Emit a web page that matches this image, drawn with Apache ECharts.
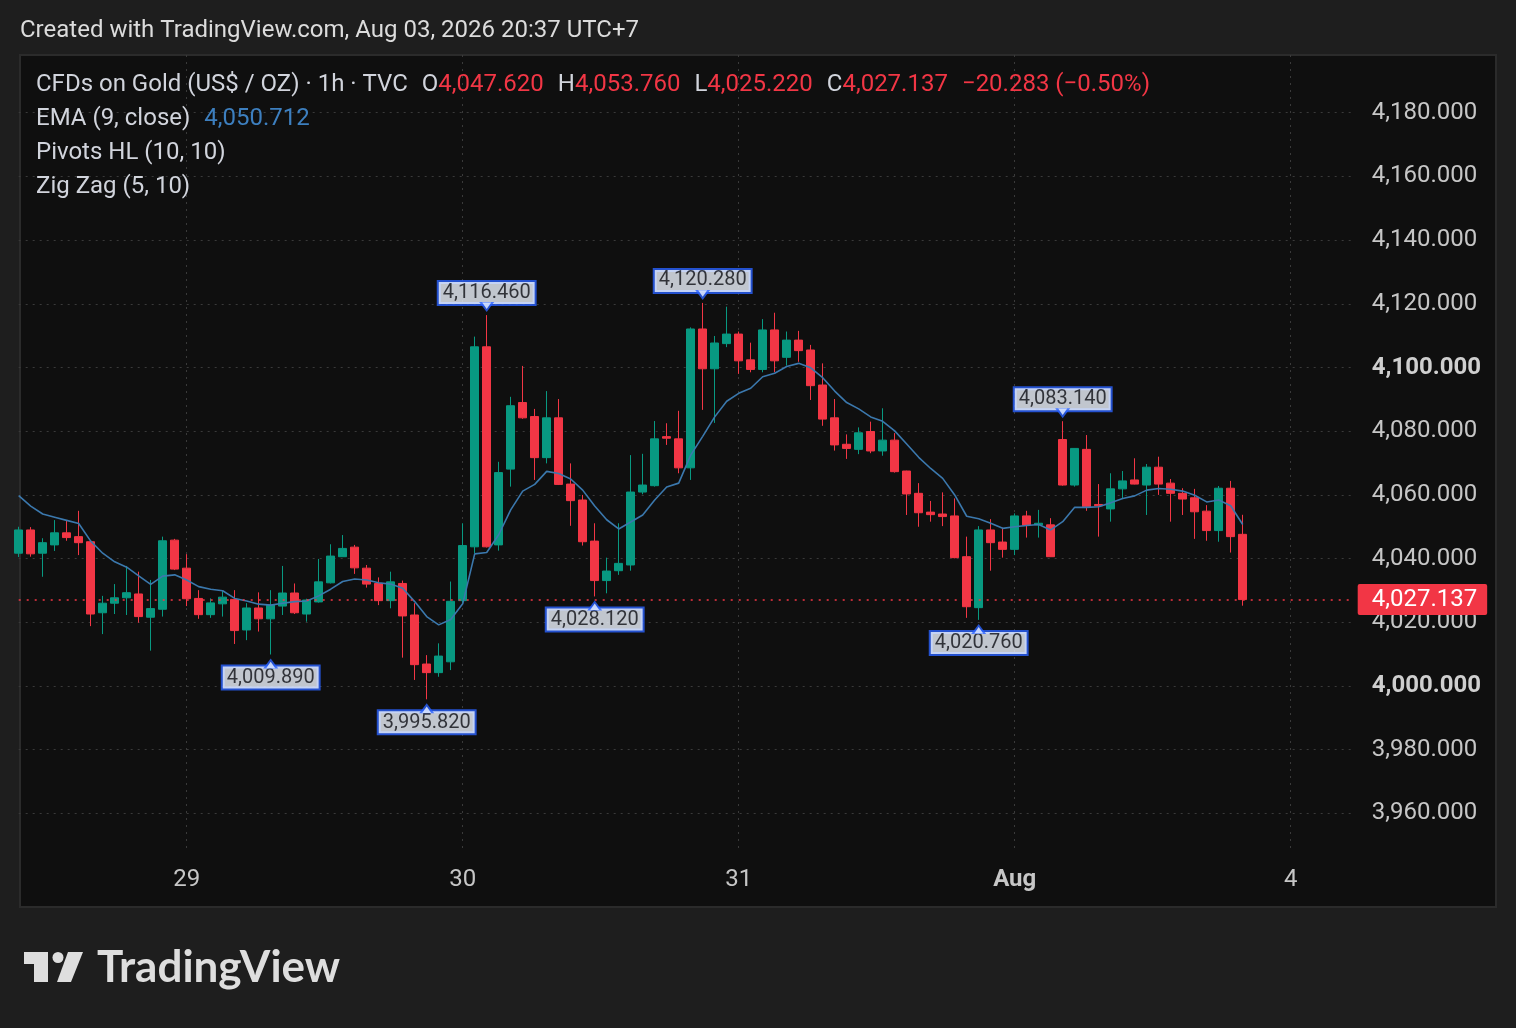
<!DOCTYPE html>
<html><head><meta charset="utf-8">
<script src="https://cdn.jsdelivr.net/npm/echarts@6/dist/echarts.min.js"></script>
<style>html,body{margin:0;padding:0;background:#1e1e1e}#c{width:1516px;height:1028px}</style>
</head><body><div id="c"></div><script>
// ---- time categories (1h bars, daily break at 04:00) ----
const firstDayHours = ['10:00','11:00','12:00','13:00','14:00','15:00','16:00','17:00','18:00','19:00','20:00','21:00','22:00','23:00'];
const dayHours = ['00:00','01:00','02:00','03:00','05:00','06:00','07:00','08:00','09:00','10:00','11:00','12:00','13:00','14:00','15:00','16:00','17:00','18:00','19:00','20:00','21:00','22:00','23:00'];
const lastDayHours = ['00:00','01:00','02:00','03:00','05:00','06:00'];
const dayKeys = ['07-29','07-30','07-31','08-03'];
const dayTickCats = ['07-29 00:00','07-30 00:00','07-31 00:00','08-03 00:00','08-04 00:00'];
const dayTickLabels = ['29','30','31','Aug','4'];

// ---- OHLC values ----
const openVals = [4041.7,4049.0,4041.7,4044.3,4048.1,4046.9,4045.3,4023.0,4026.0,4027.7,4028.9,4021.6,4024.1,4045.8,4037.0,4027.5,4022.4,4025.8,4027.2,4017.6,
4024.5,4021.1,4025.1,4029.2,4022.6,4026.4,4032.4,4040.6,4043.6,4037.0,4032.2,4026.8,4032.2,4022.3,4006.9,4004.2,4007.6,4026.8,4043.7,4106.5,
4044.3,4068.1,4089.0,4084.6,4071.7,4084.2,4063.4,4058.4,4045.5,4033.1,4036.2,4038.0,4060.9,4062.9,4078.3,4077.6,4068.5,4112.1,4099.6,4107.5,
4110.5,4102.4,4099.4,4111.8,4103.2,4108.6,4105.5,4094.5,4084.2,4075.9,4074.3,4079.9,4073.8,4077.2,4067.5,4060.5,4054.6,4054.0,4053.4,4040.6,
4024.6,4049.0,4045.2,4042.9,4053.4,4050.6,4050.6,4077.4,4063.1,4074.3,4057.0,4055.6,4061.9,4064.7,4063.1,4068.7,4063.7,4060.5,4059.1,4054.9,
4048.8,4062.1,4047.62];
const highVals = [4050.0,4049.9,4046.4,4052.1,4052.1,4055.0,4045.8,4028.3,4032.0,4037.7,4035.9,4033.3,4046.9,4046.2,4041.4,4030.1,4027.5,4030.1,4030.1,4026.0,
4029.4,4030.1,4037.7,4032.2,4027.4,4039.9,4044.5,4047.4,4044.3,4038.0,4034.1,4035.9,4033.1,4026.0,4009.7,4013.4,4032.8,4051.1,4109.7,4116.46,
4070.4,4090.8,4100.5,4087.0,4092.6,4090.1,4069.9,4060.0,4051.1,4040.3,4051.1,4072.5,4072.9,4083.2,4082.5,4086.4,4112.6,4120.28,4109.9,4119.1,
4111.3,4107.8,4115.2,4117.2,4111.3,4111.5,4107.1,4101.3,4090.1,4079.0,4081.2,4083.0,4087.2,4079.4,4067.6,4063.7,4058.1,4060.8,4058.9,4046.9,
4050.2,4052.4,4049.7,4054.2,4055.0,4055.3,4052.7,4083.14,4074.7,4078.8,4063.4,4066.8,4067.5,4071.5,4069.7,4072.0,4065.0,4062.1,4061.9,4056.8,
4062.8,4064.4,4053.76];
const lowVals = [4040.5,4040.6,4034.3,4042.4,4045.6,4041.1,4018.8,4016.3,4022.6,4022.3,4019.9,4011.1,4021.8,4036.4,4025.1,4021.1,4021.4,4021.8,4013.2,4014.4,
4017.1,4009.89,4022.3,4022.6,4020.2,4026.2,4032.2,4040.6,4035.2,4030.9,4025.4,4024.4,4008.9,4001.9,3995.82,4002.9,4005.0,4026.0,4041.7,4043.5,
4042.5,4062.6,4083.9,4064.7,4069.9,4063.1,4050.3,4044.1,4028.12,4029.1,4034.9,4036.2,4060.2,4062.6,4075.7,4066.8,4064.7,4086.7,4082.6,4106.4,
4098.0,4098.5,4098.5,4098.5,4100.6,4101.8,4089.8,4081.7,4073.9,4071.3,4072.8,4073.1,4072.3,4067.0,4053.7,4050.0,4051.6,4050.2,4040.1,4021.4,
4020.76,4036.2,4040.3,4041.1,4046.6,4046.6,4040.5,4062.9,4062.6,4055.0,4046.9,4051.6,4058.7,4063.3,4053.7,4060.0,4051.6,4053.7,4046.2,4045.6,
4045.3,4041.9,4025.22];
const closeVals = [4049.0,4041.5,4045.0,4048.1,4046.6,4045.0,4022.6,4026.0,4027.7,4029.3,4021.8,4024.3,4045.6,4036.7,4027.4,4022.4,4026.1,4027.9,4017.4,4024.5,
4021.1,4025.4,4029.2,4023.0,4027.0,4032.7,4040.8,4043.2,4037.1,4032.0,4026.8,4032.7,4022.0,4006.7,4004.2,4009.4,4026.6,4044.1,4106.5,4043.7,
4067.0,4088.0,4084.2,4071.7,4084.2,4063.3,4058.2,4045.3,4033.1,4036.1,4038.5,4060.9,4063.1,4077.6,4077.8,4068.5,4112.1,4099.6,4107.7,4110.5,
4102.1,4099.4,4111.8,4102.1,4108.6,4105.3,4094.3,4083.8,4075.7,4074.6,4079.5,4073.8,4077.2,4067.3,4060.3,4054.4,4053.8,4053.2,4040.3,4024.9,
4049.0,4045.0,4042.9,4053.4,4050.5,4051.1,4040.6,4063.1,4074.6,4056.3,4056.6,4061.9,4064.4,4063.4,4068.7,4063.4,4060.5,4058.7,4054.7,4048.8,
4062.1,4046.9,4027.137];
// ---- EMA (9, close) ----
const emaVals = [4059.8,4056.5,4054.0,4053.0,4052.0,4051.0,4045.5,4041.7,4039.0,4037.3,4034.6,4031.9,4034.5,4034.9,4033.3,4031.2,4030.4,4029.9,4027.5,4026.7,
4025.7,4025.4,4026.0,4026.5,4026.7,4028.3,4030.4,4032.8,4033.6,4033.3,4032.4,4032.0,4030.7,4026.5,4021.8,4019.2,4020.9,4025.8,4041.5,4041.9,
4047.5,4055.3,4061.2,4063.3,4067.4,4066.7,4065.0,4061.5,4056.5,4052.2,4049.3,4051.5,4053.7,4058.4,4062.5,4063.7,4072.5,4078.4,4084.5,4089.4,
4091.9,4093.5,4097.1,4098.2,4100.3,4101.3,4099.9,4096.8,4092.6,4089.0,4087.0,4084.5,4083.1,4080.1,4076.0,4071.8,4068.3,4065.2,4060.0,4053.3,
4052.5,4051.1,4049.5,4050.0,4050.4,4050.7,4049.0,4051.6,4056.1,4056.1,4056.3,4057.5,4058.9,4059.7,4061.5,4062.0,4061.8,4061.2,4059.9,4057.8,
4058.4,4056.6,4050.712];
// ---- Pivots HL ----
const pivotHighIdx = [39, 57, 87];
const pivotHighVals = [4116.46, 4120.28, 4083.14];
const pivotLowIdx = [21, 34, 48, 80];
const pivotLowVals = [4009.89, 3995.82, 4028.12, 4020.76];
// ---- price axis ticks ----
const priceTicks = [3960,3980,4000,4020,4040,4060,4080,4100,4120,4140,4160,4180];
const lastPrice = 4027.137;
const lastEma = 4050.712;

// categories
const categories = [];
firstDayHours.forEach(h => categories.push('07-28 ' + h));
dayKeys.forEach(d => dayHours.forEach(h => categories.push(d + ' ' + h)));
lastDayHours.forEach(h => categories.push('08-04 ' + h));

const candleData = openVals.map((o, i) => [o, closeVals[i], lowVals[i], highVals[i]]);
const fmt = v => v.toLocaleString('en-US', {minimumFractionDigits: 3, maximumFractionDigits: 3});
const FONT = 'Roboto, "Noto Sans", sans-serif';
const FS = 24;
const GREEN = '#089981', RED = '#f23645', EMA_C = '#3b78ad', TXT = '#c6c6c6';
const PIV_BG = '#eef4fe', PIV_BORDER = '#2962ff';

const highPts = pivotHighIdx.map((x, i) => [categories[x], pivotHighVals[i]]);
const lowPts = pivotLowIdx.map((x, i) => [categories[x], pivotLowVals[i]]);
const pivotLabel = {
  show: true, formatter: p => fmt(p.value[1]), color: '#0c0e14', fontFamily: FONT, fontSize: 20,
  backgroundColor: PIV_BG, borderColor: PIV_BORDER, borderWidth: 2, lineHeight: 19
};

const chart = echarts.init(document.getElementById('c'), null, {renderer: 'canvas'});
chart.setOption({
  animation: false,
  backgroundColor: '#1e1e1e',
  textStyle: {fontFamily: FONT},
  grid: {left: 18.7, right: 165.3, top: 55, bottom: 180, containLabel: false, outerBoundsMode: 'none'},
  xAxis: {
    type: 'category', data: categories, boundaryGap: false,
    axisLine: {show: false}, axisTick: {show: false},
    splitLine: {show: true, interval: (i, v) => dayTickCats.includes(v), lineStyle: {color: '#3a3a3a', type: [2, 5], width: 1}},
    axisLabel: {
      interval: (i, v) => dayTickCats.includes(v), margin: 20, color: TXT, fontSize: FS, fontFamily: FONT,
      formatter: v => { const k = dayTickCats.indexOf(v); const s = dayTickLabels[k]; return s === 'Aug' ? '{b|Aug}' : s; },
      rich: {b: {fontWeight: 'bold', fontSize: FS, color: TXT, fontFamily: FONT}}
    }
  },
  yAxis: {
    type: 'value', position: 'right', scale: true, min: 3949.14, max: 4198.12,
    axisLine: {show: false},
    axisTick: {show: false, customValues: priceTicks},
    splitLine: {show: true, lineStyle: {color: '#3a3a3a', type: [2, 5], width: 1}},
    axisLabel: {
      customValues: priceTicks, margin: 21, color: TXT, fontSize: FS, fontFamily: FONT,
      formatter: v => v % 100 === 0 ? '{b|' + fmt(v) + '}' : fmt(v),
      rich: {b: {fontWeight: 'bold', fontSize: FS, color: '#cfcfcf', fontFamily: FONT}}
    }
  },
  series: [
    {
      type: 'candlestick', data: candleData, barWidth: 9, clip: true,
      itemStyle: {color: GREEN, color0: RED, borderColor: GREEN, borderColor0: RED, borderWidth: 1},
      markLine: {
        silent: true, symbol: ['none', 'none'], animation: false,
        lineStyle: {color: RED, type: [2, 6], width: 1.5},
        label: {
          position: 'end', distance: 7, formatter: () => fmt(lastPrice), color: '#ffffff', fontSize: FS, fontFamily: FONT,
          backgroundColor: RED, padding: [4, 10, 3, 14], borderRadius: 2
        },
        data: [{yAxis: lastPrice}]
      }
    },
    {
      type: 'line', data: emaVals, symbol: 'none', smooth: false, silent: true,
      lineStyle: {color: EMA_C, width: 1.6},
      markLine: {
        silent: true, symbol: ['none', 'none'], animation: false,
        lineStyle: {opacity: 0},
        label: {
          position: 'end', distance: 7, formatter: () => fmt(lastEma), color: '#ffffff', fontSize: FS, fontFamily: FONT,
          backgroundColor: EMA_C, padding: [4, 10, 3, 14], borderRadius: 2
        },
        data: [{yAxis: lastEma}]
      }
    },
    // pivot high labels
    {type: 'scatter', data: highPts, symbolSize: 0, silent: true, z: 5,
      label: Object.assign({}, pivotLabel, {position: 'top', distance: 11, padding: [1, 4, 2, 4]})},
    {type: 'scatter', data: highPts, symbol: 'triangle', symbolRotate: 180, symbolSize: [15, 10], symbolOffset: [0, -8], silent: true, z: 6,
      itemStyle: {color: PIV_BORDER}},
    {type: 'scatter', data: highPts, symbol: 'triangle', symbolRotate: 180, symbolSize: [9, 6.5], symbolOffset: [0, -9.4], silent: true, z: 7,
      itemStyle: {color: PIV_BG}},
    // pivot low labels
    {type: 'scatter', data: lowPts, symbolSize: 0, silent: true, z: 5,
      label: Object.assign({}, pivotLabel, {position: 'bottom', distance: 12, padding: [2, 4, 1, 4]})},
    {type: 'scatter', data: lowPts, symbol: 'triangle', symbolSize: [15, 10], symbolOffset: [0, 9], silent: true, z: 6,
      itemStyle: {color: PIV_BORDER}},
    {type: 'scatter', data: lowPts, symbol: 'triangle', symbolSize: [9, 6.5], symbolOffset: [0, 10.4], silent: true, z: 7,
      itemStyle: {color: PIV_BG}}
  ],
  graphic: [
    {type: 'rect', z: -10, silent: true, shape: {x: 20, y: 55, width: 1476, height: 852},
      style: {fill: '#0f0f0f', stroke: '#2b2b2b', lineWidth: 2}},
    {type: 'text', z: 10, silent: true, x: 20, y: 31,
      style: {text: 'Created with TradingView.com, Aug 03, 2026 20:37 UTC+7', fill: '#dcdcdc', fontSize: FS, fontFamily: FONT,
        align: 'left', verticalAlign: 'middle', textAlign: 'left', textVerticalAlign: 'middle'}},
    {type: 'text', z: 10, silent: true, x: 36, y: 85,
      style: {
        text: '{g|CFDs on Gold (US$ / OZ) · 1h · TVC}{s|}{g|O}{r|4,047.620}{s|}{g|H}{r|4,053.760}{s|}{g|L}{r|4,025.220}{s|}{g|C}{r|4,027.137}{s|}{r|−20.283 (−0.50%)}',
        rich: {g: {fill: '#d1d4dc', color: '#d1d4dc', fontSize: FS, fontFamily: FONT}, r: {fill: RED, color: RED, fontSize: FS, fontFamily: FONT}, s: {width: 14}},
        fontSize: FS, fontFamily: FONT, align: 'left', verticalAlign: 'middle', textAlign: 'left', textVerticalAlign: 'middle'}},
    {type: 'text', z: 10, silent: true, x: 36, y: 119,
      style: {
        text: '{g|EMA (9, close)}{s|}{b|4,050.712}',
        rich: {g: {fill: '#d1d4dc', color: '#d1d4dc', fontSize: FS, fontFamily: FONT}, b: {fill: '#3d7fbf', color: '#3d7fbf', fontSize: FS, fontFamily: FONT}, s: {width: 14}},
        fontSize: FS, fontFamily: FONT, align: 'left', verticalAlign: 'middle', textAlign: 'left', textVerticalAlign: 'middle'}},
    {type: 'text', z: 10, silent: true, x: 36, y: 153,
      style: {text: 'Pivots HL (10, 10)', fill: '#d1d4dc', fontSize: FS, fontFamily: FONT, align: 'left', verticalAlign: 'middle', textAlign: 'left', textVerticalAlign: 'middle'}},
    {type: 'text', z: 10, silent: true, x: 36, y: 187,
      style: {text: 'Zig Zag (5, 10)', fill: '#d1d4dc', fontSize: FS, fontFamily: FONT, align: 'left', verticalAlign: 'middle', textAlign: 'left', textVerticalAlign: 'middle'}},
    // TradingView logo
    {type: 'group', z: 10, silent: true, children: [
      {type: 'rect', shape: {x: 24, y: 952, width: 24, height: 12}, style: {fill: '#dedede'}},
      {type: 'rect', shape: {x: 34, y: 952, width: 14, height: 30}, style: {fill: '#dedede'}},
      {type: 'circle', shape: {cx: 58, cy: 957.5, r: 5.5}, style: {fill: '#dedede'}},
      {type: 'polygon', shape: {points: [[68, 952], [83, 952], [71, 982], [57, 982]]}, style: {fill: '#dedede'}},
      {type: 'text', x: 97, y: 968, style: {text: 'TradingView', fill: '#dedede', fontSize: 44, fontWeight: 'bold', fontFamily: 'Lato, Inter, sans-serif',
        align: 'left', verticalAlign: 'middle', textAlign: 'left', textVerticalAlign: 'middle'}}
    ]}
  ]
});
</script></body></html>
